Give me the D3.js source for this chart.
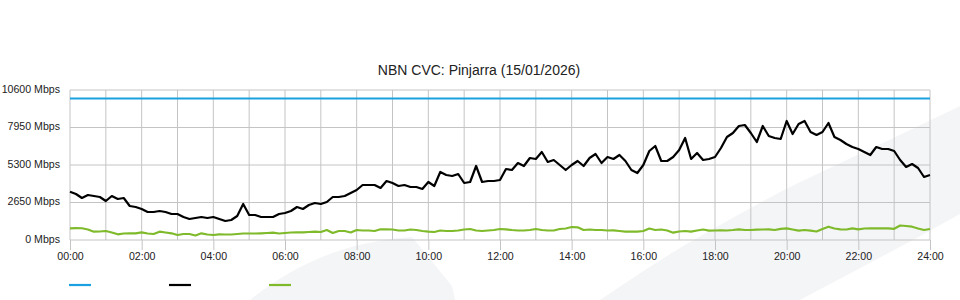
<!doctype html>
<html lang="en">
<head>
<meta charset="utf-8">
<title>NBN CVC: Pinjarra</title>
<script src="https://cdn.jsdelivr.net/npm/d3@7"></script>
<style>
  body { margin: 0; background: #fff; }
  svg { display: block; font-family: "Liberation Sans", Arial, sans-serif; }
  .grid line { stroke: #c4c4c4; stroke-width: 1; shape-rendering: auto; }
  .lbl { fill: #222; font-size: 10.6px; }
</style>
</head>
<body>
<svg id="chart" width="960" height="300"></svg>
<script>
// chart values
var title = "NBN CVC: Pinjarra (15/01/2026)";
var yTicks = [0, 2650, 5300, 7950, 10600];
var xTicks = [0, 2, 4, 6, 8, 10, 12, 14, 16, 18, 20, 22, 24];
var stepMinutes = 10; // one sample every 10 minutes, 00:00 .. 24:00

var capacityHours = [0, 24];
var capacity = [10000, 10000];

// black series (Mbps)
var traffic = [
  3413, 3251, 2968, 3180, 3109, 3039, 2756, 3109, 2897, 2968,
  2403, 2332, 2191, 1979, 1979, 2049, 1979, 1837, 1837, 1625,
  1484, 1555, 1625, 1555, 1625, 1484, 1343, 1413, 1696, 2544,
  1767, 1767, 1625, 1625, 1625, 1837, 1908, 2049, 2332, 2191,
  2473, 2615, 2544, 2685, 3039, 3039, 3109, 3321, 3533, 3887,
  3887, 3887, 3675, 4169, 4028, 3816, 3887, 3745, 3745, 3604,
  4099, 3816, 4805, 4593, 4523, 4664, 4028, 4099, 5229, 4099,
  4169, 4169, 4240, 5017, 4947, 5441, 5229, 5795, 5724, 6219,
  5512, 5653, 5300, 4947, 5300, 5583, 5229, 5795, 6077, 5441,
  5865, 5724, 6007, 5583, 4947, 4735, 5300, 6289, 6643, 5583,
  5583, 5865, 6360, 7208, 5724, 6148, 5653, 5724, 5865, 6501,
  7279, 7561, 8056, 8127, 7561, 6925, 8056, 7349, 7208, 7137,
  8409, 7491, 8197, 8409, 7632, 7420, 7632, 8268, 7279, 7067,
  6784, 6572, 6431, 6219, 6007, 6572, 6431, 6431, 6289, 5653,
  5159, 5371, 5088, 4452, 4593
];

// green series (Mbps)
var upload = [
  827, 840, 830, 742, 587, 600, 636, 530, 403, 459,
  473, 473, 544, 459, 424, 587, 530, 473, 353, 424,
  424, 318, 473, 389, 353, 403, 389, 389, 424, 459,
  459, 459, 473, 495, 516, 459, 495, 530, 544, 544,
  565, 587, 565, 707, 495, 636, 636, 530, 707, 671,
  671, 636, 756, 756, 742, 671, 671, 742, 707, 636,
  587, 565, 671, 636, 636, 671, 742, 777, 671, 636,
  671, 707, 777, 756, 707, 671, 671, 707, 777, 707,
  671, 671, 777, 813, 919, 897, 707, 742, 707, 707,
  671, 685, 636, 587, 587, 587, 636, 813, 707, 742,
  671, 516, 600, 636, 587, 671, 742, 657, 671, 685,
  671, 707, 756, 707, 707, 728, 742, 756, 707, 791,
  827, 742, 657, 707, 657, 600, 777, 940, 813, 756,
  742, 827, 756, 813, 827, 827, 827, 827, 791, 1025,
  989, 940, 813, 707, 777
];

var colors = ["#1ba1e2", "#000000", "#7fba2b"];

var svg = d3.select("#chart");
var x = d3.scaleLinear().domain([0, 24]).range([70, 930]);
var y = d3.scaleLinear().domain([0, 10600]).range([240, 90]);

// faint watermark shapes in the background
svg.append("path")
  .attr("d", "M250,300 C285,272 335,242 412,237 L452,286 L455,300 Z")
  .attr("fill", "#f4f5f7");
svg.append("path")
  .attr("d", "M600,300 C630,280 650,266 685,245 C720,225 755,205 790,187 C840,163 890,140 960,106 L960,214 L913,240 L800,300 Z")
  .attr("fill", "#f4f5f7");

// grid
var grid = svg.append("g").attr("class", "grid");
grid.selectAll("line.h")
  .data(yTicks)
  .join("line")
  .attr("class", "h")
  .attr("x1", x(0)).attr("x2", x(24))
  .attr("y1", d => y(d)).attr("y2", d => y(d));

grid.selectAll("line.v")
  .data(d3.range(0, 25))
  .join("line")
  .attr("class", "v")
  .attr("x1", d => x(d)).attr("x2", d => x(d))
  .attr("y1", y(10600)).attr("y2", y(0));

// x axis ticks + labels
var xAxis = d3.axisBottom(x)
  .tickValues(xTicks)
  .tickSize(10)
  .tickFormat(d => d3.format("02d")(d) + ":00");
var gx = svg.append("g").attr("transform", "translate(0," + y(0) + ")").call(xAxis);
gx.select(".domain").remove();
gx.selectAll(".tick line").attr("stroke", "#c4c4c4");
gx.selectAll(".tick text")
  .attr("class", "lbl")
  .attr("y", 12)
  .attr("dy", "0.71em")
  .attr("font-family", null)
  .attr("font-size", null)
  .attr("fill", null);

// y labels
svg.selectAll("text.ylbl")
  .data(yTicks)
  .join("text")
  .attr("class", "lbl ylbl")
  .attr("x", 60)
  .attr("y", d => y(d) + 2.5)
  .attr("text-anchor", "end")
  .text(d => d + " Mbps");

// title
svg.append("text")
  .attr("x", 479)
  .attr("y", 75)
  .attr("text-anchor", "middle")
  .attr("font-size", 14)
  .attr("fill", "#222")
  .text(title);

// series
var line = d3.line()
  .x(d => x(d[0]))
  .y(d => y(d[1]));

function points(vals) {
  return vals.map((v, i) => [i * stepMinutes / 60, v]);
}

svg.append("path")
  .datum(capacityHours.map((h, i) => [h, capacity[i]]))
  .attr("d", line)
  .attr("fill", "none")
  .attr("stroke", colors[0])
  .attr("stroke-width", 2);

svg.append("path")
  .datum(points(upload))
  .attr("d", line)
  .attr("fill", "none")
  .attr("stroke", colors[2])
  .attr("stroke-width", 2.2)
  .attr("stroke-linejoin", "round");

svg.append("path")
  .datum(points(traffic))
  .attr("d", line)
  .attr("fill", "none")
  .attr("stroke", colors[1])
  .attr("stroke-width", 2.2)
  .attr("stroke-linejoin", "round");

// legend swatches (no text in the original)
svg.selectAll("line.leg")
  .data(colors)
  .join("line")
  .attr("class", "leg")
  .attr("x1", (d, i) => 69 + i * 100)
  .attr("x2", (d, i) => 91 + i * 100)
  .attr("y1", 285).attr("y2", 285)
  .attr("stroke", d => d)
  .attr("stroke-width", 2.2);
</script>
</body>
</html>
